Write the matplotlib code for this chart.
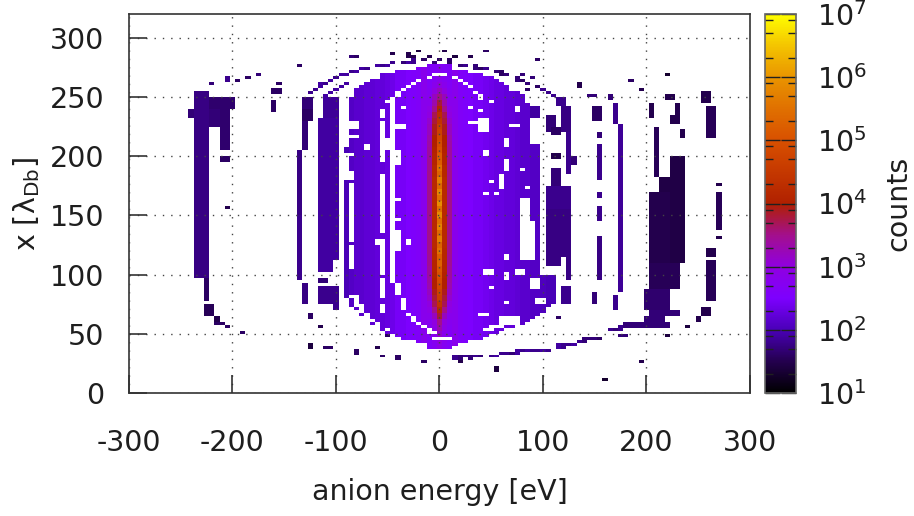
import numpy as np
import matplotlib
matplotlib.use("Agg")
import matplotlib.pyplot as plt
from matplotlib.colors import LinearSegmentedColormap, LogNorm
from matplotlib.ticker import FixedLocator, NullFormatter

# bins of the histogram: 5 eV wide, 2.5 lambda_Db high
x_centres = np.arange(-300, 305, 5.0)
y_centres = np.arange(1.25, 320, 2.5)

# main body of the distribution, one entry per column
core_x = [-90, -85, -80, -75, -70, -65, -60, -55, -50, -45, -40, -35, -30, -25, -20, -15, -10, -5, 0,
          5, 10, 15, 20, 25, 30, 35, 40, 45, 50, 55, 60, 65, 70, 75, 80, 85, 90, 95, 100, 105, 110]
core_top = [208, 250, 258, 261, 264, 266, 268, 269, 270, 271, 272, 272, 273, 273, 274, 274, 275, 275, 275,
            275, 274, 273, 272, 272, 271, 270, 269, 268, 267, 266, 263, 260, 256, 254, 252, 245, 232, 222, 100, 100, 100]
core_bottom = [80, 72, 70, 66, 62, 58, 55, 53, 51, 49, 47, 46, 45, 44, 43, 42, 41, 40, 40,
               40, 40, 41, 42, 43, 44, 45, 46, 48, 50, 51, 53, 55, 56, 57, 58, 60, 62, 66, 68, 72, 76]
core_level = [2.0, 2.1, 2.15, 2.15, 2.2, 2.2, 2.25, 2.25, 2.3, 2.35, 2.45, 2.45, 2.5, 2.55, 2.6, 2.8, 3.3, 3.8, 4.0,
              3.8, 3.3, 2.8, 2.6, 2.55, 2.5, 2.45, 2.45, 2.4, 2.35, 2.3, 2.3, 2.25, 2.25, 2.2, 2.15, 2.15, 2.1, 2.1, 2.05, 2.0, 2.0]

# the hot centre, y nodes every 5 lambda_Db
centre_y = list(range(40, 280, 5))
centre_0 = [2.9, 3.0, 3.1, 3.3, 3.5, 3.8, 4.2, 4.4, 4.6, 4.7, 4.8, 4.9, 5.0, 5.1, 5.3, 5.2, 5.5, 5.3, 5.7, 5.4, 5.8, 5.5, 5.9, 5.5,
            5.9, 5.5, 5.8, 5.4, 5.7, 5.3, 5.5, 5.2, 5.2, 5.0, 4.9, 4.8, 4.7, 4.6, 4.4, 4.3, 4.1, 3.8, 3.5, 3.2, 3.0, 2.8, 2.7, 2.7]
centre_5 = [2.7, 2.75, 2.8, 2.9, 3.0, 3.2, 3.5, 3.7, 3.8, 3.9, 4.0, 4.0, 4.05, 4.1, 4.1, 4.15, 4.15, 4.2, 4.2, 4.2, 4.2, 4.2, 4.2, 4.2,
            4.2, 4.2, 4.2, 4.2, 4.2, 4.15, 4.15, 4.1, 4.1, 4.05, 4.0, 4.0, 3.9, 3.9, 3.8, 3.7, 3.5, 3.3, 3.2, 3.0, 2.8, 2.7, 2.65, 2.6]
centre_10 = [2.6, 2.6, 2.65, 2.7, 2.75, 2.8, 2.9, 3.0, 3.1, 3.2, 3.3, 3.35, 3.4, 3.4, 3.45, 3.45, 3.5, 3.5, 3.5, 3.5, 3.5, 3.5, 3.5, 3.5,
             3.5, 3.5, 3.5, 3.5, 3.5, 3.5, 3.45, 3.45, 3.4, 3.4, 3.35, 3.3, 3.2, 3.2, 3.1, 3.0, 2.9, 2.8, 2.75, 2.7, 2.65, 2.6, 2.6, 2.6]

# outer bands: eV from, eV to, lambda from, lambda to, log10(counts)
bands_left = [
    (-242, -237, 233, 240, 1.7), (-237, -222, 98, 256, 1.75), (-229, -222, 77, 98, 1.6),
    (-222, -197, 240, 250, 1.65), (-222, -212, 226, 240, 1.7), (-211, -202, 206, 240, 1.65),
    (-211, -202, 196, 199.5, 1.6), (-207, -202, 155, 157, 1.5), (-227, -216, 66, 75, 1.55),
    (-215, -211, 61, 64, 1.5), (-215, -206, 58, 60, 1.6), (-206, -201, 56, 58, 1.6), (-192, -187, 51, 53, 1.6),
    (-164, -160, 237, 247, 1.6), (-160, -152, 252, 257, 1.6),
    (-139, -131, 140, 205, 1.75), (-139, -131, 114, 150, 1.8), (-139, -134, 94, 114, 1.8), (-134, -130, 74, 92, 1.75),
    (-134, -123, 229, 240, 1.6), (-134, -130, 205, 229, 1.7), (-130, -125, 240, 250, 1.7),
    (-115, -99, 170, 233, 1.9), (-115, -104, 102, 170, 1.9), (-104, -99, 112, 170, 1.9), (-111, -99, 233, 249, 1.85),
    (-115, -100, 76, 91, 1.8), (-115, -108, 93, 98, 1.7), (-104, -97, 70, 74, 1.8), (-104, -97, 64, 66, 1.8),
]
bands_right = [
    (92, 97, 110, 165, 2.0), (82, 92, 132, 138, 2.0), (82, 92, 118, 126, 2.0), (75, 97, 100, 112, 2.05), (87, 97, 68, 104, 2.0),
    (92, 110, 90, 100, 2.0), (94, 97, 212, 222, 1.9), (90, 95, 232, 242, 1.9), (85, 97, 165, 208, 2.05),
    (108, 116, 175, 189, 1.7), (105, 126, 147, 175, 1.8), (105, 126, 116, 154, 1.75), (105, 116, 108, 116, 1.75),
    (123, 126, 95, 116, 1.75), (105, 111, 220, 235, 1.7), (108, 116, 218, 224, 1.6), (108, 116, 198, 202, 1.5),
    (123, 130, 193, 201, 1.7), (123, 127, 185, 219, 1.8), (120, 126, 221, 243, 1.75), (115, 122, 243, 250, 1.8),
    (120, 125, 75, 89, 1.8), (112, 118, 62, 66, 1.6),
    (147, 156, 230, 243, 1.6), (151, 156, 215, 219, 1.7), (156, 159, 220, 222, 1.6), (152, 156, 180, 210, 1.8),
    (152, 156, 166, 171, 1.8), (152, 156, 144, 157, 1.8), (152, 156, 96, 133, 1.75), (147, 152, 76, 84, 1.7), (143, 151, 250, 252, 1.7),
    (169, 174, 227, 246, 1.8), (174, 178, 86, 227, 1.85), (169, 174, 70, 82, 1.8), (165, 169, 247, 253, 1.7),
    (202, 206, 233, 245, 1.5), (207, 212, 183, 226, 1.55), (222, 238, 110, 201, 1.45), (212, 222, 146, 183, 1.45),
    (203, 222, 110, 170, 1.5), (203, 233, 87, 110, 1.55), (199, 222, 71, 87, 1.65), (205, 232, 64, 71, 1.7),
    (180, 220, 55, 61, 1.7), (197, 218, 61, 66, 1.7),
    (222, 232, 228, 235, 1.5), (228, 232, 235, 246, 1.5), (233, 238, 214, 222, 1.5), (219, 228, 248, 253, 1.5),
    (254, 260, 246, 255, 1.5), (260, 266, 214, 243, 1.55), (266, 272, 174, 177, 1.5), (266, 272, 137, 170, 1.55),
    (266, 272, 129, 132, 1.5), (260, 266, 116, 122, 1.5), (260, 266, 78, 113, 1.55), (254, 260, 66, 73, 1.5),
    (249, 254, 60, 64, 1.5), (238, 243, 54, 57, 1.4), (217, 222, 48, 50, 1.4),
    (174, 183, 47, 50, 1.7), (193, 197, 26, 28, 1.5),
]

# thin arcs above and below the body, one bin per entry
upper_arc_x = [-125, -120, -115, -110, -105, -100, -95, -90, -85, -80, -75, -70, -60, -55, -50, -45, -35, -30, -25,
               20, 25, 35, 40, 45, 55, 60, 65, 75, 80, 85, 95, 100, 105, 110, -110, -105, -100, -95, -90]
upper_arc_y = [254, 257, 260, 262, 264, 266, 268, 269, 271, 272, 273, 274, 276, 276, 277, 278, 279, 279, 280,
               277, 276, 275, 274, 273, 271, 270, 268, 265, 264, 262, 258, 256, 254, 252, 250, 253, 256, 259, 262]
upper_arc_level = [1.8, 1.8, 1.9, 1.8, 1.9, 1.8, 1.9, 1.9, 1.8, 1.9, 1.9, 1.8, 1.9, 1.8, 1.9, 1.8, 1.7, 1.9, 1.8,
                   1.7, 1.8, 1.7, 1.6, 1.8, 1.7, 1.6, 1.7, 1.7, 1.6, 1.7, 1.6, 1.8, 1.8, 1.8, 1.9, 1.9, 1.9, 1.9, 1.9]
lower_arc_x = [15, 20, 25, 30, 35, 40, 50, 55, 60, 65, 70, 75, 80, 85, 90, 95, 100, 105, 115, 120, 125, 130, 135, 140, 145, 150, 155, 165, 170, 175, 180,
               -18, -15, -40, -55, -80, -92, -110, -105, -125, -143]
lower_arc_y = [30, 30, 31, 30, 31, 31, 31, 32, 33, 33, 34, 35, 36, 36, 37, 36, 36, 37, 40, 40, 41, 42, 43, 45, 46, 46, 46, 53, 54, 55, 56,
               28, 27, 30, 32, 35, 36, 39, 39, 40, 43]
lower_arc_level = [1.8, 1.7, 1.8, 1.7, 1.8, 1.7, 1.8, 1.9, 1.8, 1.8, 1.7, 1.9, 1.8, 1.9, 1.8, 1.8, 1.9, 1.8, 1.9, 1.8, 1.8, 1.9, 1.8, 1.7, 1.7, 1.7, 1.6, 1.8, 1.7, 1.8, 1.7,
                   1.6, 1.6, 1.6, 1.6, 1.6, 1.6, 1.6, 1.6, 1.4, 1.3]

# single bins scattered around the edge of the distribution
speck_x = [-220, -205, -195, -185, -175, -168, -155, -153, -153, -143, -135, -128, -126, -125, -121, -115, -109,
           -104, -99, -94, -85, -80, -77, -69, -64, -60, -50, -45, -30, -25, -20, -15, -10, -5, 0,
           5, 10, 15, 20, 30, 34, 45, 55, 61, 61, 68, 71, 72, 77, 80, 85, 90, 95, 96, 106, 109, 127, 135, 141, 143, 153,
           161, 167, 176, 185, 195, 204, 220, 246, 251, 160]
speck_y = [262, 265, 264, 267, 269, 47, 262, 141, 123, 260, 276, 276, 40, 65, 62, 57, 282,
           65, 279, 59, 284, 284, 52, 284, 49, 38, 48, 287, 285, 284, 288, 282, 284, 279, 282,
           288, 280, 284, 26, 283, 279, 288, 20, 285, 272, 257, 270, 285, 267, 269, 257, 266, 282, 264, 286, 281, 262, 260, 282, 264, 261,
           257, 268, 277, 263, 256, 261, 269, 260, 257, 12]
speck_level = [1.7, 1.8, 1.6, 1.6, 1.7, 1.5, 1.6, 1.5, 1.3, 1.7, 1.6, 1.7, 1.5, 1.6, 1.5, 1.5, 1.5,
               1.7, 1.6, 1.6, 1.7, 1.6, 1.7, 1.5, 1.7, 1.5, 1.6, 1.5, 1.5, 1.5, 1.4, 1.6, 1.5, 1.7, 1.6,
               1.5, 1.6, 1.4, 1.5, 1.5, 1.5, 1.6, 1.4, 1.6, 1.6, 1.7, 1.5, 1.6, 1.6, 1.7, 1.6, 1.7, 1.6, 1.7, 1.6, 1.6, 1.4, 1.5, 1.6, 1.7, 1.7,
               1.6, 1.6, 1.6, 1.6, 1.5, 1.7, 1.3, 1.5, 1.3, 1.3]

# empty holes and stripes inside the body
holes = [
    (-97, -93, 70, 250), (-90, -90, 250, 254), (-85, -85, 254, 258), (-80, -80, 258, 260), (-75, -75, 260, 262),
    (-70, -70, 262, 264), (-65, -65, 264, 266), (-60, -60, 266, 267), (-90, -90, 181, 203),
    (-80, -80, 72, 81), (-75, -75, 68, 74), (-70, -70, 63, 67), (-65, -65, 59, 62), (-60, -60, 56, 59),
    (-55, -55, 54, 56), (-50, -50, 52, 54),
    (-85, -78, 223, 231), (-85, -78, 216, 218), (-72, -66, 205, 210), (-88, -81, 199, 202),
    (-88, -81, 181, 188), (-88, -81, 168, 178), (-88, -81, 146, 167), (-88, -81, 127, 146), (-88, -81, 104, 126), (-88, -80, 81, 83),
    (-56, -51, 233, 240), (-81, -75, 244, 246), (-52, -48, 245, 247), (-50, -45, 205, 214), (-42, -37, 192, 204),
    (-40, -35, 222, 228), (-37, -33, 239, 242), (-42, -38, 162, 164), (-42, -38, 149, 151), (-42, -37, 145, 147), (-42, -37, 119, 138),
    (-30, -27, 124, 129), (-60, -55, 126, 130), (-56, -51, 68, 75), (-14, -11, 64, 66),
    (-57, -53, 195, 230), (-57, -53, 134, 185), (-57, -53, 100, 125), (-57, -53, 80, 98),
    # white arc just inside the body
    (-47, -43, 92, 250), (-40, -40, 250, 254), (-35, -35, 254, 258), (-30, -30, 258, 261), (-25, -25, 261, 263),
    (-20, -20, 263, 265), (-15, -15, 265, 266), (-10, -10, 266, 268), (-5, -5, 267.5, 269), (0, 0, 268, 270),
    (5, 5, 267.5, 269), (10, 10, 266.5, 268), (15, 15, 265, 266.5), (20, 20, 262.5, 264), (25, 25, 260, 262),
    (30, 30, 257, 259), (35, 35, 253, 256), (40, 40, 248, 252),
    (-40, -40, 82, 92), (-35, -35, 70, 80), (-30, -30, 64, 68), (-25, -25, 60, 64), (-20, -20, 57, 60), (-15, -15, 54, 57), (-10, -10, 52, 54),
    (40, 45, 219, 232), (61, 66, 207, 214), (43, 48, 199, 206), (63, 68, 188, 198), (58, 63, 173, 186), (48, 52, 178, 180),
    (43, 48, 168, 171), (53, 57, 167, 169), (58, 63, 164, 166), (28, 32, 239, 242), (39, 43, 237, 240), (50, 55, 239, 241),
    (48, 52, 246, 248), (71, 77, 238, 242), (69, 75, 225, 227), (30, 35, 227, 229), (78, 84, 188, 190), (81, 87, 172, 174),
    (87, 96, 209, 232), (77, 85, 146, 166), (77, 92, 112, 146), (62, 68, 112, 118), (62, 68, 96, 103), (45, 50, 101, 104),
    (48, 52, 88, 90), (62, 68, 74, 78), (40, 45, 66, 68),
    (75, 82, 100, 104), (90, 97, 88, 98), (94, 103, 76, 80), (42, 50, 53, 55), (50, 60, 55, 58), (60, 75, 58, 64),
    (-5, 10, 46, 48), (-12, -5, 50, 52), (10, 25, 44, 46),
]

# colorbar stops: log10(counts), colour
palette_logs = [1.0, 1.5, 2.0, 2.5, 3.0, 3.5, 4.0, 4.5, 5.0, 5.5, 6.0, 6.5, 7.0]
palette_cols = ["#000000", "#24004f", "#4a00b8", "#7d00ff", "#9000e0", "#a30f8c", "#b02000",
                "#c53800", "#d85000", "#e07000", "#e99400", "#f4c400", "#ffff00"]

xticks = [-300, -200, -100, 0, 100, 200, 300]
yticks = [0, 50, 100, 150, 200, 250, 300]
cticks = [1e1, 1e2, 1e3, 1e4, 1e5, 1e6, 1e7]
cticklabels = ["$\\mathregular{10^{%d}}$" % k for k in [1, 2, 3, 4, 5, 6, 7]]

TEXT = "#1e1e1e"
LINE = "#333333"
FONT_SIZE = 20.5

plt.rcParams["font.family"] = "DejaVu Sans"
plt.rcParams["font.size"] = FONT_SIZE
plt.rcParams["mathtext.default"] = "regular"
plt.rcParams["axes.unicode_minus"] = False


def fill(grid, run, level):
    x0, x1, y0, y1 = run
    ix = (x_centres >= x0 - 0.5) & (x_centres <= x1 + 0.5)
    iy = (y_centres >= y0) & (y_centres <= y1)
    grid[np.ix_(iy, ix)] = level


levels = np.full((len(y_centres), len(x_centres)), np.nan)

for b in bands_left + bands_right:
    fill(levels, b[:4], b[4])

for x, top, bottom, lev in zip(core_x, core_top, core_bottom, core_level):
    fill(levels, (x, x, bottom, top), lev)

for x, profile in [(0, centre_0), (-5, centre_5), (5, centre_5), (-10, centre_10), (10, centre_10)]:
    for y, lev in zip(centre_y, profile):
        fill(levels, (x, x, y - 2.5, y + 2.5), lev)

for h in holes:
    fill(levels, h, np.nan)

for xs, ys, levs in [(upper_arc_x, upper_arc_y, upper_arc_level), (lower_arc_x, lower_arc_y, lower_arc_level),
                     (speck_x, speck_y, speck_level)]:
    for x, y, lev in zip(xs, ys, levs):
        fill(levels, (x, x, y - 1.25, y + 1.25), lev)

counts = np.ma.masked_invalid(10.0 ** levels)

stops = [(v - 1.0) / 6.0 for v in palette_logs]
cmap = LinearSegmentedColormap.from_list("ions", list(zip(stops, palette_cols)), N=512)
norm = LogNorm(vmin=1e1, vmax=1e7)

W, H = 914, 516
fig = plt.figure(figsize=(W / 100, H / 100), dpi=100)
ax = fig.add_axes([129 / W, 1 - 393 / H, (750 - 129) / W, (393 - 14) / H])
cax = fig.add_axes([765 / W, 1 - 393 / H, (796 - 765) / W, (393 - 14) / H])

im = ax.imshow(counts, origin="lower", extent=[-302.5, 302.5, 0, 320], cmap=cmap, norm=norm,
               aspect="auto", interpolation="nearest")
ax.set_xlim(-300, 300)
ax.set_ylim(0, 320)
ax.set_xticks(xticks)
ax.set_yticks(yticks)
ax.grid(True, color="#444444", linestyle=(0, (1, 5)), linewidth=1.0)
ax.set_axisbelow(False)
ax.tick_params(direction="in", length=13, width=1.2, top=False, right=False, color=LINE, labelcolor=TEXT, labelsize=FONT_SIZE)
ax.tick_params(axis="x", pad=26)
ax.tick_params(axis="y", pad=18)
ax.set_xlabel("anion energy [eV]", color=TEXT, fontsize=FONT_SIZE)
ax.xaxis.set_label_coords((439.5 - 129) / 621, -(492 - 393) / 379, transform=ax.transAxes)
ax.xaxis.label.set_verticalalignment("center")
ax.set_ylabel("x [$\\lambda_{Db}$]", color=TEXT, fontsize=FONT_SIZE)
ax.yaxis.set_label_coords((27 - 129) / 621, (393 - 204) / 379, transform=ax.transAxes)
ax.yaxis.label.set_verticalalignment("center")
for s in ax.spines.values():
    s.set_color(LINE)
    s.set_linewidth(1.2)

cb = fig.colorbar(im, cax=cax)
cax.yaxis.set_major_locator(FixedLocator(cticks))
cax.set_yticklabels(cticklabels)
minors = [m * 10.0 ** k for k in range(1, 7) for m in (2, 5, 8)]
cax.yaxis.set_minor_locator(FixedLocator(minors))
cax.yaxis.set_minor_formatter(NullFormatter())
cax.tick_params(which="major", direction="in", length=11, width=1.0, left=True, right=True,
                labelleft=False, labelright=True, pad=15, labelsize=FONT_SIZE, labelcolor=TEXT, color="#202020")
cax.tick_params(which="minor", direction="in", length=6, width=1.0, left=True, right=True, color="#202020")
cb.outline.set_edgecolor("#666666")
cb.outline.set_linewidth(1.2)
fig.text(898 / W, 1 - 203 / H, "counts", rotation=90, ha="center", va="center", color=TEXT, fontsize=FONT_SIZE)

fig.savefig("out.png", dpi=100)
plt.close(fig)
